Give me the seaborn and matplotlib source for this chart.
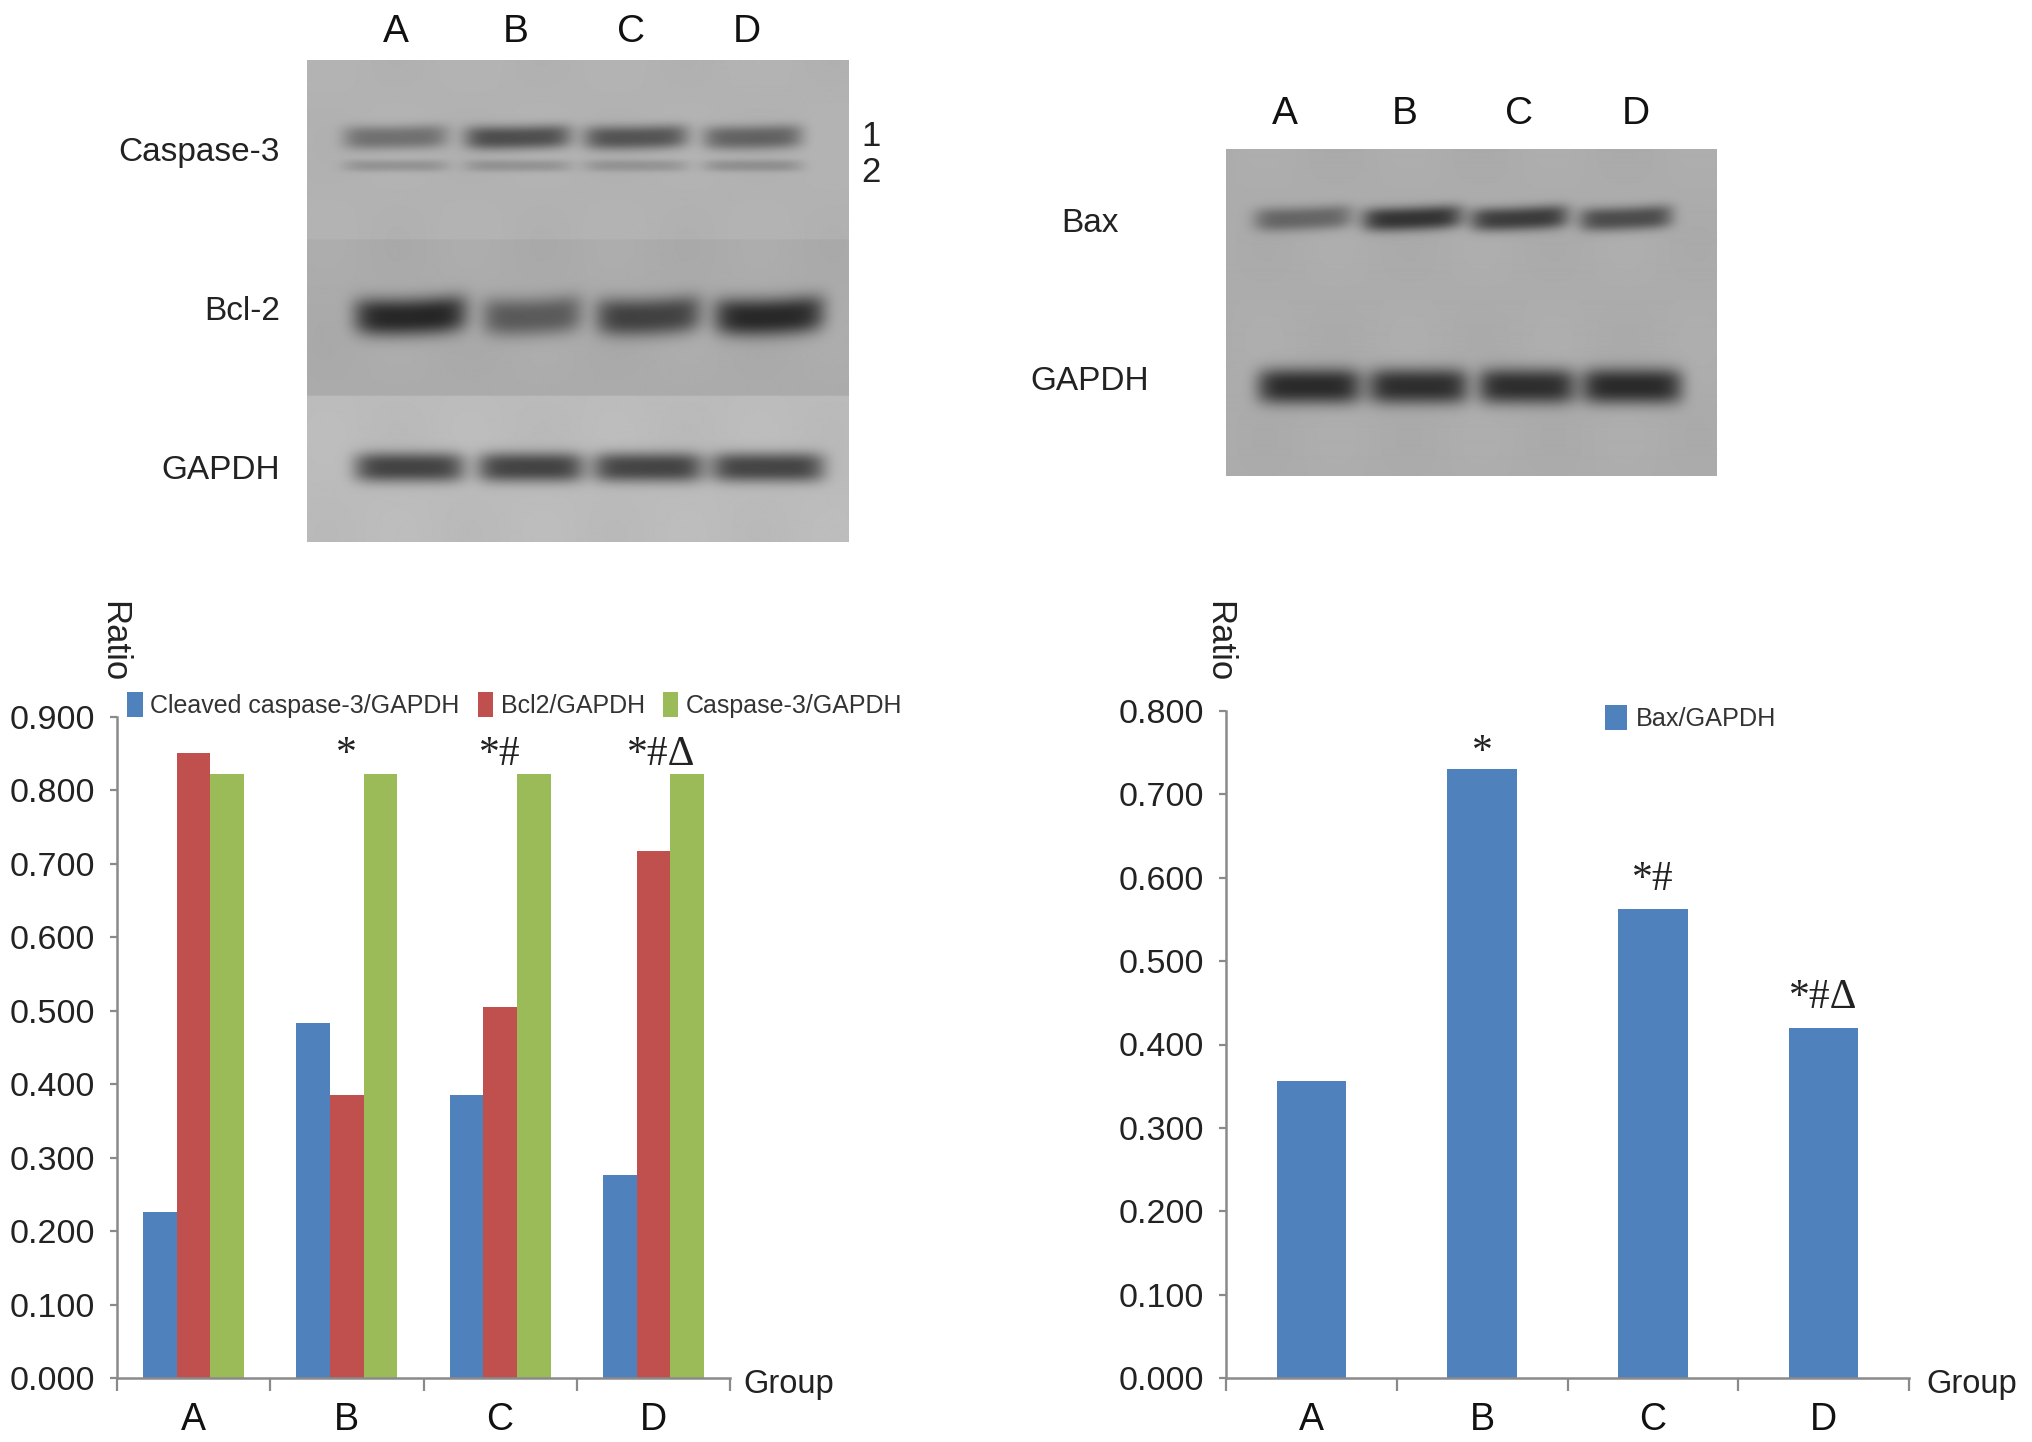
import numpy as np
import pandas as pd
import matplotlib
matplotlib.use("Agg")
import matplotlib.pyplot as plt
import seaborn as sns

sns.set_theme(style="white")
plt.rcParams["font.family"] = ["Liberation Sans", "DejaVu Sans"]

W, H = 2032, 1442

# Chart data
groups = ["A", "B", "C", "D"]
cleaved_caspase3 = [0.226, 0.483, 0.385, 0.277]
bcl2 = [0.851, 0.385, 0.505, 0.718]
caspase3 = [0.822, 0.822, 0.822, 0.822]
bax = [0.356, 0.730, 0.563, 0.420]
left_marks = ["", "*", "*#", "*#\u0394"]
right_marks = ["", "*", "*#", "*#\u0394"]

# Blot band darkness by lane, 0 = nothing, 1 = black
casp_band1 = [0.36, 0.54, 0.50, 0.42]
casp_band2 = [0.17, 0.17, 0.16, 0.18]
bcl2_band = [0.72, 0.44, 0.57, 0.70]
gapdh_left = [0.64, 0.64, 0.64, 0.64]
bax_band = [0.38, 0.64, 0.60, 0.52]
gapdh_right = [0.70, 0.68, 0.68, 0.70]


def px_axes(x0, y0, x1, y1):
    return fig.add_axes([x0 / W, 1 - y1 / H, (x1 - x0) / W, (y1 - y0) / H])


def add_band(img, xx, yy, lanes, yc, half_h, darkness, tilt=0.0, bow=0.0):
    # soft edged band in every lane
    for (a, b), d in zip(lanes, darkness):
        mid = (a + b) / 2
        half = (b - a) / 2
        u = (xx - mid) / half
        centre = yc - tilt * u - bow * (1 - u ** 2)
        shape = np.exp(-np.abs(u) ** 6) * np.exp(-np.abs((yy - centre) / half_h) ** 2.6)
        img -= d * 185 * shape


def draw_blot(box, rows, bands):
    x0, y0, x1, y1 = box
    ax = px_axes(x0, y0, x1, y1)
    xx, yy = np.meshgrid(np.arange(x0, x1), np.arange(y0, y1))
    img = np.zeros(xx.shape)
    for top, bottom, grey in rows:
        img[(yy >= top) & (yy < bottom)] = grey
    # faint film mottling
    img += 2.0 * np.sin(xx / 23.0) * np.sin(yy / 31.0)
    for b in bands:
        add_band(img, xx, yy, *b)
    ax.imshow(img, cmap="gray", vmin=0, vmax=255, aspect="auto", interpolation="bilinear")
    ax.axis("off")
    return ax


fig = plt.figure(figsize=(W / 100, H / 100), dpi=100, facecolor="white")

# Left blot
lanes_casp = [(343, 447), (464, 570), (583, 687), (702, 801)]
lanes_bcl = [(354, 466), (482, 581), (595, 700), (713, 823)]
lanes_gap = [(354, 464), (477, 583), (592, 702), (710, 823)]
draw_blot(
    (307, 60, 848, 542),
    [(60, 240, 178), (240, 396, 171), (396, 542, 187)],
    [
        (lanes_casp, 137, 12, casp_band1, 1, -1),
        (lanes_casp, 166, 6, casp_band2),
        (lanes_bcl, 314, 19, bcl2_band, 2, -3),
        (lanes_gap, 467, 15, gapdh_left),
    ],
)

# Right blot
lanes_bax = [(1254, 1352), (1362, 1462), (1470, 1568), (1579, 1672)]
lanes_gap2 = [(1257, 1361), (1368, 1468), (1478, 1575), (1581, 1682)]
draw_blot(
    (1226, 149, 1717, 476),
    [(149, 476, 172)],
    [
        (lanes_bax, 218, 12, bax_band, 2, -1),
        (lanes_gap2, 386, 18, gapdh_right),
    ],
)


def style_axis(ax, ymax, ystep):
    ax.set_xlim(-0.5, 3.5)
    ax.set_ylim(0, ymax)
    ax.set_yticks(np.arange(0, ymax + 0.001, ystep))
    ax.set_yticklabels([f"{v:.3f}" for v in np.arange(0, ymax + 0.001, ystep)], fontsize=24.5, color="#222222")
    ax.set_xticks(range(4))
    ax.set_xticklabels(groups, fontsize=27, color="#111111")
    ax.set_xticks([-0.5, 0.5, 1.5, 2.5, 3.5], minor=True)
    ax.tick_params(axis="x", which="major", bottom=False, pad=11.5)
    ax.tick_params(axis="x", which="minor", bottom=True, length=9, width=1.6, color="#8a8a8a")
    ax.tick_params(axis="y", left=True, length=5, width=1.6, color="#8a8a8a", pad=10.5)
    ax.set_xlabel("")
    ax.set_ylabel("")
    sns.despine(ax=ax)
    for side in ["left", "bottom"]:
        ax.spines[side].set_color("#8a8a8a")
        ax.spines[side].set_linewidth(1.8)
    ax.patch.set_alpha(0)


# Left bars
left_df = pd.DataFrame({
    "Group": groups * 3,
    "Ratio": cleaved_caspase3 + bcl2 + caspase3,
    "Series": ["Cleaved caspase-3/GAPDH"] * 4 + ["Bcl2/GAPDH"] * 4 + ["Caspase-3/GAPDH"] * 4,
})
ax1 = px_axes(117, 717, 730, 1378)
sns.barplot(data=left_df, x="Group", y="Ratio", hue="Series", width=0.66, linewidth=0,
            palette=["#4F81BD", "#C0504D", "#9BBB59"], saturation=1, ax=ax1)
style_axis(ax1, 0.9, 0.1)
ax1.legend(loc="center left", bbox_to_anchor=(0.017, 1.018), ncol=3, frameon=False,
           fontsize=18, handlelength=0.62, handleheight=1.15, handletextpad=0.3,
           columnspacing=0.72, borderpad=0, borderaxespad=0, labelcolor="#333333")
for x, s, y in zip(range(4), left_marks, [0, 0.848, 0.848, 0.848]):
    ax1.text(x + (0.05 if len(s) == 3 else 0), y, s, ha="center", va="center", fontsize=30,
             family="Liberation Serif", color="#222222", clip_on=False)

# Right bars
right_df = pd.DataFrame({"Group": groups, "Ratio": bax, "Series": ["Bax/GAPDH"] * 4})
ax2 = px_axes(1226, 711, 1909, 1378)
sns.barplot(data=right_df, x="Group", y="Ratio", hue="Series", width=0.406, linewidth=0,
            palette=["#4F81BD"], saturation=1, ax=ax2)
style_axis(ax2, 0.8, 0.1)
ax2.legend(loc="center left", bbox_to_anchor=(0.555, 0.989), frameon=False,
           fontsize=18.2, handlelength=0.85, handleheight=1.15, handletextpad=0.35,
           borderpad=0, borderaxespad=0, labelcolor="#333333")
for x, s, y in zip(range(4), right_marks, [0, 0.750, 0.598, 0.456]):
    ax2.text(x, y, s, ha="center", va="center", fontsize=30,
             family="Liberation Serif", color="#222222", clip_on=False)


def label(x, y, s, size=24.5, ha="center", rotation=0, color="#222222"):
    fig.text(x / W, 1 - y / H, s, fontsize=size, ha=ha, va="center",
             rotation=rotation, color=color)


# Lane letters and band names
for x, s in zip([396, 516, 631, 747], groups):
    label(x, 32, s, 28, color="#111111")
for x, s in zip([1285, 1405, 1519, 1636], groups):
    label(x, 114, s, 28, color="#111111")
label(280, 153, "Caspase-3", 24, ha="right")
label(280, 311, "Bcl-2", 24, ha="right")
label(280, 470, "GAPDH", 24, ha="right")
label(871, 137, "1", 25)
label(871, 172, "2", 25)
label(1090, 224, "Bax", 24)
label(1090, 382, "GAPDH", 24)

# Axis captions
label(114, 642, "Ratio", 25, rotation=-90)
label(1219, 642, "Ratio", 25, rotation=-90)
label(789, 1384, "Group", 23.5)
label(1972, 1384, "Group", 23.5)

fig.savefig("out.png", dpi=100)
